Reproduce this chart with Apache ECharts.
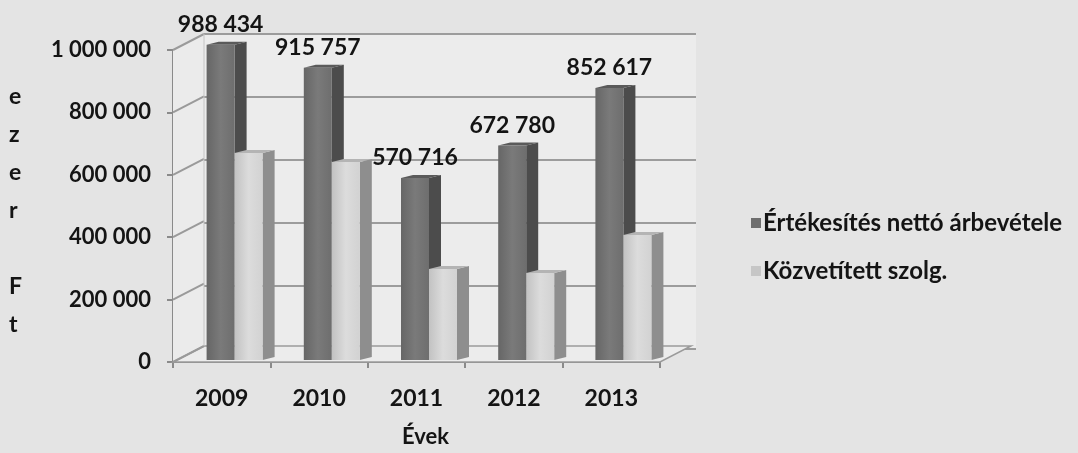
<!DOCTYPE html>
<html><head><meta charset="utf-8">
<script src="https://cdn.jsdelivr.net/npm/echarts@6/dist/echarts.min.js"></script>
<style>html,body{margin:0;padding:0;background:#e4e4e4}#c{width:1078px;height:453px}</style>
</head><body><div id="c"></div>
<script>
const categories = ['2009', '2010', '2011', '2012', '2013'];
const netSales = [988434, 915757, 570716, 672780, 852617];
const services = [649000, 621000, 285000, 273000, 392000];
const yTicks = [0, 200000, 400000, 600000, 800000, 1000000];
const seriesNames = ['Értékesítés nettó árbevétele', 'Közvetített szolg.'];
const yTitle = 'e\nz\ne\nr\n\nF\nt';
const xTitle = 'Évek';

const FONT = 'Lato';
const DEPTH_X = 31, DEPTH_Y = -16;
const fmt = v => String(v).replace(/\B(?=(\d{3})+(?!\d))/g, ' ');

const chart = echarts.init(document.getElementById('c'), null, {renderer: 'canvas'});

function frameItem(params, api) {
  const band = api.size([1, 0])[0];
  const x0 = api.coord([0, 0])[0] - band / 2;
  const x1 = x0 + band * categories.length;
  const y0 = api.coord([0, 0])[1];
  const yTop = api.coord([0, yTicks[yTicks.length - 1]])[1];
  const children = [];
  children.push({type: 'polygon', shape: {points: [[x0, y0], [x0, yTop], [x0 + DEPTH_X, yTop + DEPTH_Y], [x0 + DEPTH_X, y0 + DEPTH_Y]]},
    style: {fill: '#ebebeb'}});
  children.push({type: 'polygon', shape: {points: [[x0, y0], [x1, y0], [x1 + DEPTH_X, y0 + DEPTH_Y], [x0 + DEPTH_X, y0 + DEPTH_Y]]},
    style: {fill: '#ececec', stroke: '#9a9a9a', lineWidth: 1.5}});
  yTicks.forEach(v => {
    const y = api.coord([0, v])[1];
    children.push({type: 'line', shape: {x1: x0, y1: y, x2: x0 + DEPTH_X, y2: y + DEPTH_Y},
      style: {stroke: '#9a9a9a', lineWidth: 2}});
  });
  children.push({type: 'line', shape: {x1: x0 + DEPTH_X, y1: yTop + DEPTH_Y, x2: x0 + DEPTH_X, y2: y0 + DEPTH_Y},
    style: {stroke: '#c4c4c4', lineWidth: 1}});
  return {type: 'group', children};
}

function barRenderer(k, colors, withLabel) {
  return function (params, api) {
    const idx = api.value(0);
    const val = api.value(1);
    const top = api.coord([idx, val]);
    const base = api.coord([idx, 0]);
    const w = 28, dx = 12, dy = -3;
    const xL = top[0] + (k === 0 ? -w : 0);
    const xR = xL + w;
    const yT = top[1], yB = base[1];
    const children = [
      {type: 'polygon', shape: {points: [[xR, yT], [xR + dx, yT + dy], [xR + dx, yB + dy], [xR, yB]]},
        style: {fill: colors.side}},
      {type: 'polygon', shape: {points: [[xL, yT], [xR, yT], [xR + dx, yT + dy], [xL + dx, yT + dy]]},
        style: {fill: colors.top}},
      {type: 'rect', shape: {x: xL, y: yT, width: w, height: yB - yT},
        style: {fill: new echarts.graphic.LinearGradient(0, 0, 1, 0, [
          {offset: 0, color: colors.f0}, {offset: 0.5, color: colors.f1}, {offset: 1, color: colors.f2}])}}
    ];
    if (withLabel) {
      children.push({type: 'text', style: {text: fmt(val), x: xL + w / 2, y: yT - 20,
        align: 'center', verticalAlign: 'middle', fill: '#141414', font: 'bold 23px ' + FONT}});
    }
    return {type: 'group', children};
  };
}

const darkColors = {side: '#4c4c4c', top: '#5a5a5a', f0: '#666666', f1: '#7a7a7a', f2: '#6e6e6e'};
const lightColors = {side: '#8e8e8e', top: '#b4b4b4', f0: '#c2c2c2', f1: '#dcdcdc', f2: '#d2d2d2'};

const option = {
  backgroundColor: '#e4e4e4',
  animation: false,
  textStyle: {fontFamily: FONT},
  grid: [
    {left: 173, top: 50, width: 487, height: 315, containLabel: false},
    {left: 204, top: 34, width: 492, height: 315, show: true, backgroundColor: '#ececec', borderWidth: 0},
    {left: 186, top: 41, width: 486, height: 319}
  ],
  xAxis: [
    {gridIndex: 0, type: 'category', data: categories,
      axisLine: {lineStyle: {color: '#8a8a8a', width: 2}},
      axisTick: {show: true, length: 6, lineStyle: {color: '#8a8a8a', width: 2}},
      axisLabel: {margin: 25, color: '#141414', fontSize: 23, fontWeight: 'bold', fontFamily: FONT},
      name: xTitle, nameLocation: 'middle', nameGap: 64,
      nameTextStyle: {color: '#141414', fontSize: 22, fontWeight: 'bold', fontFamily: FONT, padding: [0, 0, 0, 18]}},
    {gridIndex: 1, type: 'category', data: categories, show: false},
    {gridIndex: 2, type: 'category', data: categories, show: false}
  ],
  yAxis: [
    {gridIndex: 0, type: 'value', min: 0, max: 1000000, interval: 200000,
      axisLine: {show: true, lineStyle: {color: '#8a8a8a', width: 2}},
      axisTick: {show: true, length: 6, lineStyle: {color: '#8a8a8a', width: 2}},
      splitLine: {show: false},
      axisLabel: {margin: 22, color: '#141414', fontSize: 22, fontWeight: 'bold', fontFamily: FONT, formatter: fmt}},
    {gridIndex: 1, type: 'value', min: 0, max: 1000000, interval: 200000,
      axisLine: {show: false}, axisTick: {show: false}, axisLabel: {show: false},
      splitLine: {show: true, lineStyle: {color: '#9c9c9c', width: 2}}},
    {gridIndex: 2, type: 'value', min: 0, max: 1000000, show: false, splitLine: {show: false}}
  ],
  legend: {
    orient: 'vertical', left: 746, top: 206, itemGap: 24, itemWidth: 10, itemHeight: 10, icon: 'rect',
    data: seriesNames,
    textStyle: {color: '#141414', fontSize: 24, fontWeight: 'bold', fontFamily: FONT, padding: [0, 0, 0, -3]}
  },
  graphic: [
    {type: 'text', left: 9, top: 78, style: {text: yTitle, font: 'bold 23px ' + FONT, lineHeight: 38, fill: '#141414', align: 'center'}}
  ],
  series: [
    {type: 'custom', name: 'frame', xAxisIndex: 0, yAxisIndex: 0, data: [[0, 0]], z: 1, silent: true,
      renderItem: frameItem, legendHoverLink: false},
    {type: 'custom', name: seriesNames[0], xAxisIndex: 2, yAxisIndex: 2, z: 3,
      itemStyle: {color: '#6e6e6e'},
      data: netSales.map((v, i) => [i, v]),
      renderItem: barRenderer(0, darkColors, true)},
    {type: 'custom', name: seriesNames[1], xAxisIndex: 2, yAxisIndex: 2, z: 4,
      itemStyle: {color: '#c6c6c6'},
      data: services.map((v, i) => [i, v]),
      renderItem: barRenderer(1, lightColors, false)}
  ]
};
chart.setOption(option);
</script>
</body></html>
